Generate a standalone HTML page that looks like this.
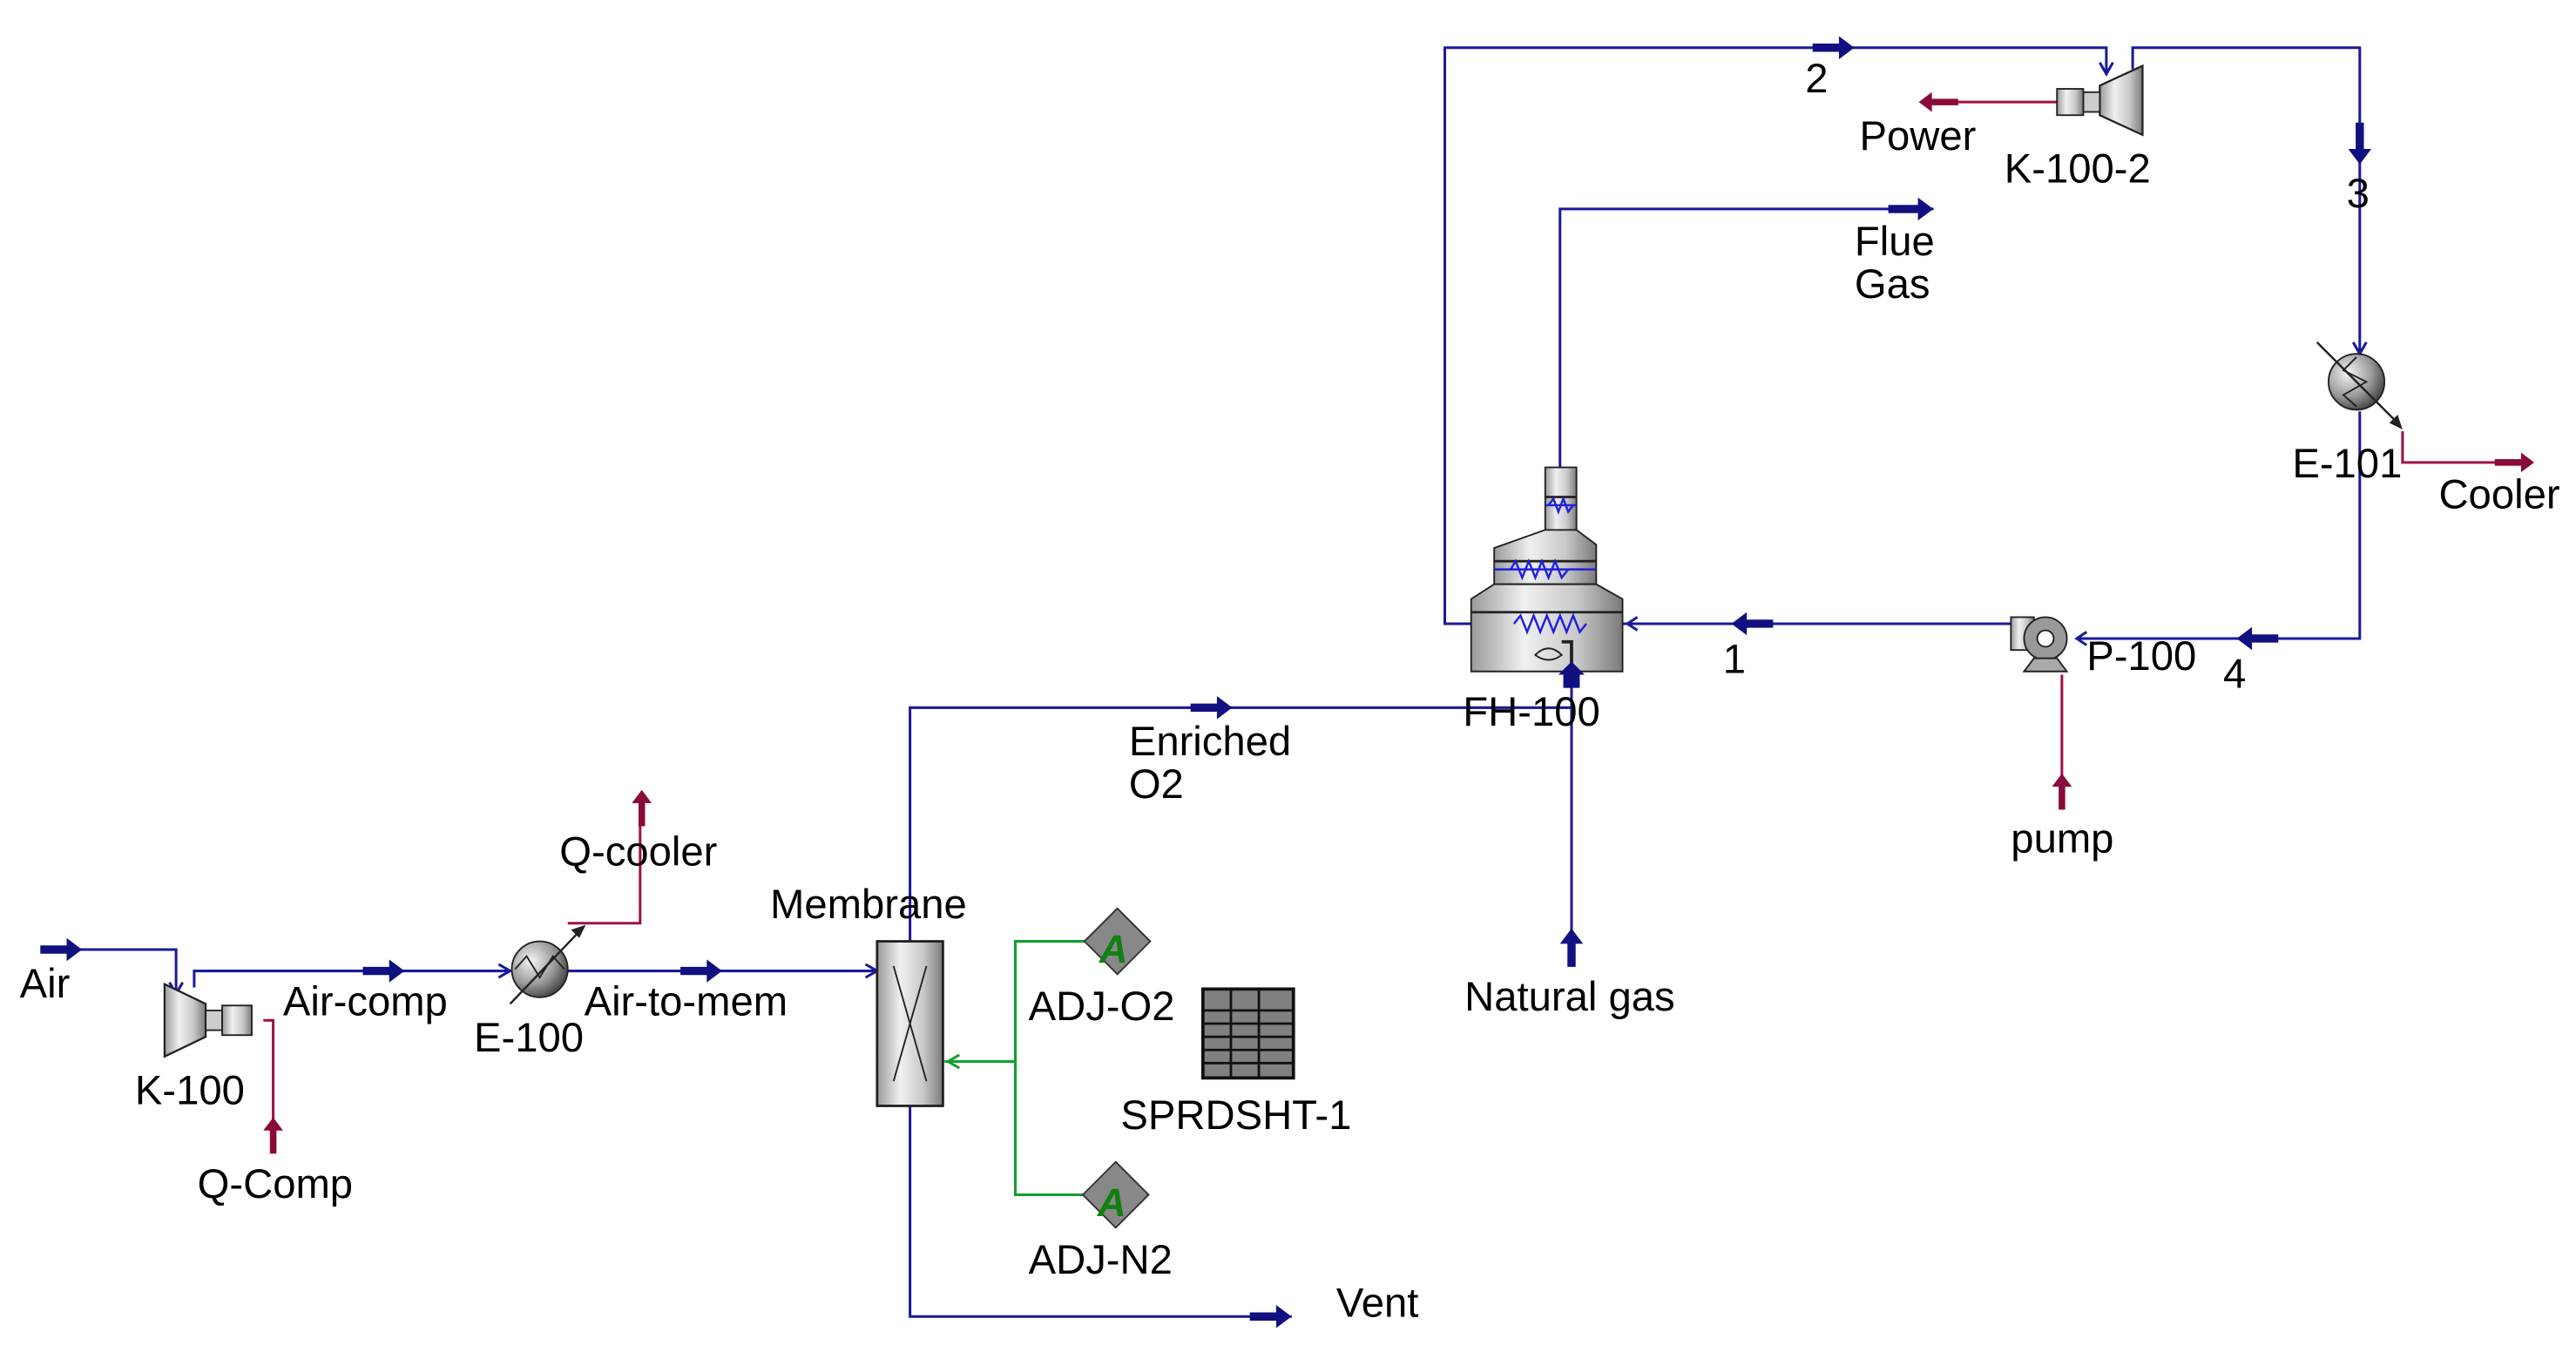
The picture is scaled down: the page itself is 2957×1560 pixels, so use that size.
<!DOCTYPE html>
<html><head><meta charset="utf-8"><style>
html,body{margin:0;padding:0;background:#fff;}
svg{display:block;}
text{font-family:"Liberation Sans",Arial,sans-serif;font-size:25px;fill:#000;}
</style></head><body>
<svg width="2957" height="1560" viewBox="0 0 1565.4 825.8" preserveAspectRatio="none" xmlns="http://www.w3.org/2000/svg">
<defs>
<linearGradient id="g" x1="0" x2="1" y1="0" y2="0">
<stop offset="0" stop-color="#9a9a9a"/><stop offset="0.35" stop-color="#f0f0f0"/><stop offset="0.7" stop-color="#c8c8c8"/><stop offset="1" stop-color="#7a7a7a"/>
</linearGradient>
<radialGradient id="rg" cx="0.35" cy="0.35" r="0.7">
<stop offset="0" stop-color="#f4f4f4"/><stop offset="0.6" stop-color="#9a9a9a"/><stop offset="1" stop-color="#444"/>
</radialGradient>
</defs>
<g fill="none" stroke="#1a1a9a" stroke-width="1.6">
<!-- Air -->
<polyline points="25,577 107,577 107,603"/>
<!-- Air-comp -->
<polyline points="118,600 118,590 310,590"/>
<!-- Air-to-mem -->
<line x1="345" y1="590" x2="533" y2="590"/>
<!-- Enriched O2 -->
<polyline points="553,572 553,430 955,430"/>
<!-- Vent -->
<polyline points="553,672 553,800 785,800"/>
<!-- Natural gas -->
<line x1="955" y1="585" x2="955" y2="410"/>
<!-- 1 and 2 loop -->
<polyline points="1222,379 878,379 878,29 1280,29 1280,45"/>
<!-- 3 -->
<polyline points="1296,42 1296,29 1434,29 1434,215"/>
<!-- 4 -->
<polyline points="1434,250 1434,388 1262,388"/>
<!-- Flue gas -->
<polyline points="948,284 948,127 1175,127"/>
</g>
<!-- blue arrows (thick) -->
<g fill="#101080" stroke="#101080">
<path d="M25,575 h16 v-4 l8,6 l-8,6 v-4 h-16z"/>
<path d="M221,588 h16 v-4 l8,6 l-8,6 v-4 h-16z"/>
<path d="M414,588 h16 v-4 l8,6 l-8,6 v-4 h-16z"/>
<path d="M724,428 h16 v-4 l8,6 l-8,6 v-4 h-16z"/>
<path d="M760,798 h16 v-4 l8,6 l-8,6 v-4 h-16z"/>
<path d="M1102,27 h16 v-4 l8,6 l-8,6 v-4 h-16z"/>
<path d="M1148,125 h18 v-4 l8,6 l-8,6 v-4 h-18z"/>
<path d="M1077,377 h-16 v-4 l-8,6 l8,6 v-4 h16z"/>
<path d="M1384,386 h-16 v-4 l-8,6 l8,6 v-4 h16z"/>
<path d="M1432,75 v16 h-4 l6,8 l6,-8 h-4 v-16z"/>
<path d="M953,587 v-14 h-4 l6,-8 l6,8 h-4 v14z"/>
</g>
<!-- small inlet arrowheads -->
<g fill="none" stroke="#1a1a9a" stroke-width="1.6">
<polyline points="103,597 107,604 111,597"/>
<polyline points="303,586 310,590 303,594"/>
<polyline points="526,586 533,590 526,594"/>
<polyline points="1276,38 1280,45 1284,38"/>
<polyline points="1430,208 1434,215 1438,208"/>
<polyline points="1268,384 1262,388 1268,392"/>
<polyline points="995,375 989,379 995,383"/>
</g>
<!-- red energy lines -->
<g fill="none" stroke="#a0104a" stroke-width="1.6">
<polyline points="166,688 166,620 160,620"/>
<polyline points="345,561 389,561 389,490"/>
<line x1="1185" y1="62" x2="1250" y2="62"/>
<polyline points="1253,478 1253,410"/>
<polyline points="1460,262 1460,281 1530,281"/>
</g>
<g fill="#8a0a3a">
<path d="M164,701 v-14 h-4 l6,-8 l6,8 h-4 v14z"/>
<path d="M388,502 v-14 h-4 l6,-8 l6,8 h-4 v14z"/>
<path d="M1251,492 v-14 h-4 l6,-8 l6,8 h-4 v14z"/>
<path d="M1190,60 h-16 v-4 l-8,6 l8,6 v-4 h16z"/>
<path d="M1516,279 h16 v-4 l8,6 l-8,6 v-4 h-16z"/>
</g>
<!-- K-100 compressor -->
<path d="M100,598 L125,610 L125,630 L100,642 Z" fill="url(#g)" stroke="#222" stroke-width="1.2"/>
<rect x="125" y="614" width="10" height="12" fill="#ccc" stroke="#222"/>
<rect x="135" y="611" width="18" height="18" fill="url(#g)" stroke="#222"/>
<!-- K-100-2 turbine -->
<path d="M1302,40 L1276,52 L1276,70 L1302,82 Z" fill="url(#g)" stroke="#222" stroke-width="1.2"/>
<rect x="1266" y="56" width="10" height="12" fill="#ccc" stroke="#222"/>
<rect x="1250" y="54" width="16" height="16" fill="url(#g)" stroke="#222"/>
<!-- E-100 -->
<circle cx="328" cy="589" r="17" fill="url(#rg)" stroke="#222"/>
<polyline points="313,589 320,581 328,594 336,581 343,589" fill="none" stroke="#222"/>
<line x1="310" y1="610" x2="353" y2="565" stroke="#222" stroke-width="1.3"/>
<path d="M356,562 l-9,3 l5,5z" fill="#222"/>
<!-- E-101 -->
<circle cx="1432" cy="232" r="17" fill="url(#rg)" stroke="#222"/>
<polyline points="1432,217 1424,225 1438,232 1424,240 1432,247" fill="none" stroke="#222"/>
<line x1="1408" y1="208" x2="1456" y2="256" stroke="#222" stroke-width="1.3"/>
<path d="M1460,261 l-3,-9 l-5,5z" fill="#222"/>
<!-- Membrane -->
<rect x="533" y="572" width="40" height="100" fill="url(#g)" stroke="#222" stroke-width="1.5"/>
<line x1="543" y1="587" x2="563" y2="657" stroke="#222"/>
<line x1="563" y1="587" x2="543" y2="657" stroke="#222"/>
<!-- green -->
<g fill="none" stroke="#10a030" stroke-width="1.6">
<polyline points="574,645 617,645 617,572 660,572"/>
<polyline points="617,645 617,726 660,726"/>
<polyline points="583,641 576,645 583,649"/>
</g>
<!-- ADJ diamonds -->
<path d="M679,552 L699,572 L679,592 L659,572 Z" fill="#888" stroke="#333"/>
<text x="668" y="585" style="font-size:24px;font-weight:bold;fill:#108010;font-style:italic">A</text>
<path d="M678,706 L698,726 L678,746 L658,726 Z" fill="#888" stroke="#333"/>
<text x="667" y="739" style="font-size:24px;font-weight:bold;fill:#108010;font-style:italic">A</text>
<!-- Spreadsheet -->
<rect x="731" y="601" width="55" height="54" fill="#808080" stroke="#111" stroke-width="2"/>
<g stroke="#111" stroke-width="1.5">
<line x1="748" y1="601" x2="748" y2="655"/><line x1="765" y1="601" x2="765" y2="655"/>
<line x1="731" y1="614" x2="786" y2="614"/><line x1="731" y1="622" x2="786" y2="622"/>
<line x1="731" y1="630" x2="786" y2="630"/><line x1="731" y1="638" x2="786" y2="638"/>
<line x1="731" y1="646" x2="786" y2="646"/>
</g>
<!-- Fired heater FH-100 -->
<rect x="939" y="284" width="19" height="39" fill="url(#g)" stroke="#222"/>
<path d="M908,333 L939,322 L958,322 L970,331 L970,355 L908,355 Z" fill="url(#g)" stroke="#222"/>
<path d="M894,364 L908,355 L970,355 L986,364 L986,408 L894,408 Z" fill="url(#g)" stroke="#222"/>
<g stroke="#222" stroke-width="1.5"><line x1="939" y1="302" x2="958" y2="302"/><line x1="908" y1="341" x2="970" y2="341"/><line x1="894" y1="372" x2="986" y2="372"/></g>
<g fill="none" stroke="#2020e0" stroke-width="1.3">
<line x1="939" y1="307" x2="958" y2="307"/>
<polyline points="941,307 944,303 947,311 950,303 953,311 956,307"/>
<line x1="908" y1="346" x2="970" y2="346"/>
<polyline points="918,346 921,341 925,351 929,341 933,351 937,341 941,351 945,341 949,351 953,346"/>
<polyline points="920,379 924,374 928,384 932,374 936,384 940,374 944,384 948,374 952,384 956,374 960,384 964,379"/>
</g>
<path d="M933,398 q8,-8 16,0 q-8,6 -16,0z" fill="none" stroke="#222"/>
<polyline points="949,390 955,390 955,408" fill="none" stroke="#222" stroke-width="2"/>
<path d="M950,418 v-8 h-3 l8,-8 l8,8 h-3 v8z" fill="#101080"/>
<!-- Pump P-100 -->
<path d="M1222,375 h14 v20 h-14z" fill="url(#g)" stroke="#222"/>
<circle cx="1243" cy="388" r="13" fill="#999" stroke="#222"/>
<circle cx="1243" cy="388" r="5" fill="#fff" stroke="#222"/>
<path d="M1230,408 l6,-8 h14 l6,8z" fill="#aaa" stroke="#222"/>
<!-- labels -->
<text x="12" y="606">Air</text>
<text x="82" y="671">K-100</text>
<text x="172" y="617">Air-comp</text>
<text x="120" y="728">Q-Comp</text>
<text x="288" y="639">E-100</text>
<text x="340" y="526">Q-cooler</text>
<text x="355" y="617">Air-to-mem</text>
<text x="468" y="558">Membrane</text>
<text x="686" y="459">Enriched</text>
<text x="686" y="485">O2</text>
<text x="625" y="620">ADJ-O2</text>
<text x="681" y="686">SPRDSHT-1</text>
<text x="625" y="774">ADJ-N2</text>
<text x="812" y="800">Vent</text>
<text x="889" y="441">FH-100</text>
<text x="890" y="614">Natural gas</text>
<text x="1047" y="409">1</text>
<text x="1097" y="56">2</text>
<text x="1426" y="126">3</text>
<text x="1351" y="418">4</text>
<text x="1130" y="91">Power</text>
<text x="1218" y="111">K-100-2</text>
<text x="1127" y="155">Flue</text>
<text x="1127" y="181">Gas</text>
<text x="1393" y="290">E-101</text>
<text x="1482" y="309">Cooler</text>
<text x="1268" y="407">P-100</text>
<text x="1222" y="518">pump</text>
</svg>
</body></html>
